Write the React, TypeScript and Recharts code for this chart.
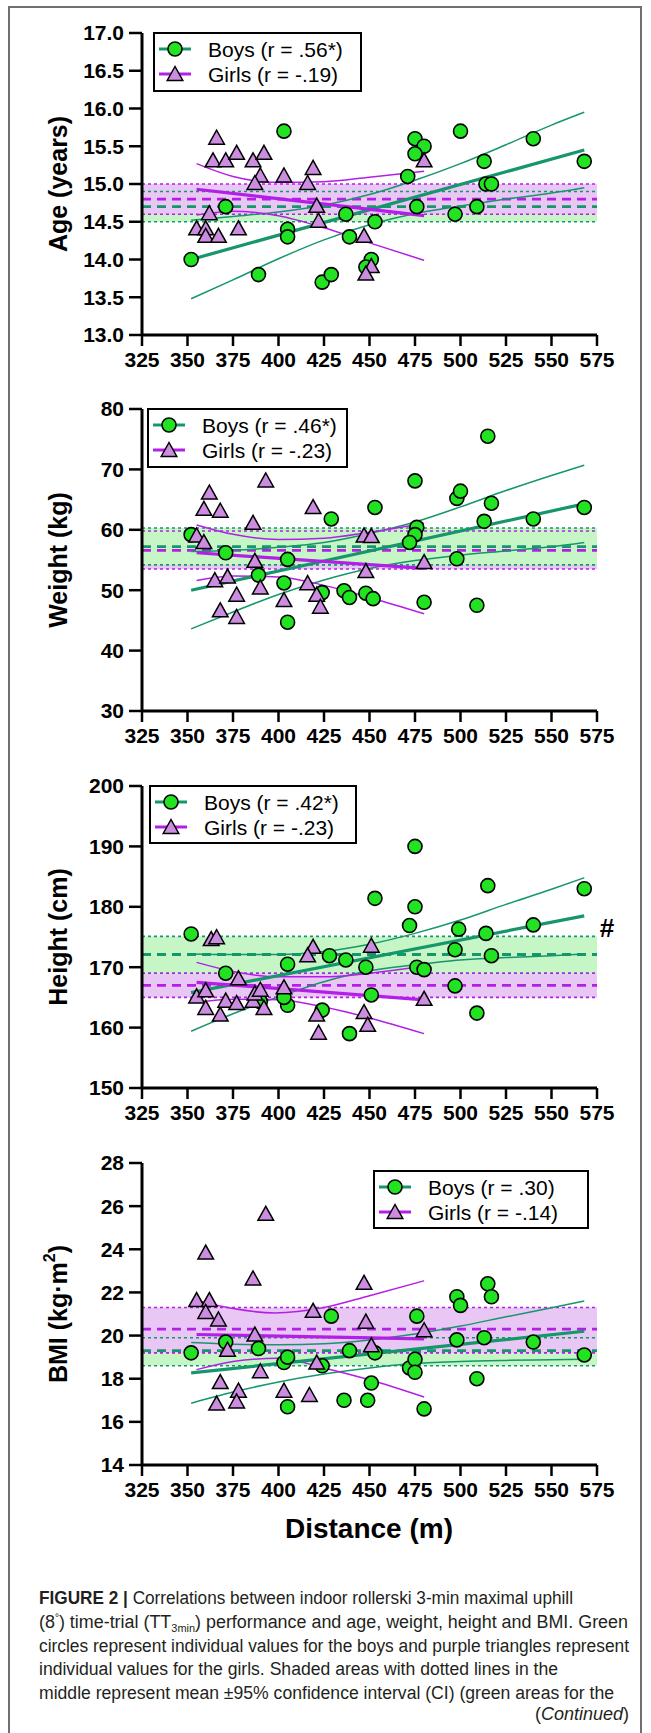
import React from 'react';
import { ScatterChart, Scatter, XAxis, YAxis, ReferenceArea, ReferenceLine } from 'recharts';

type Pt = { x: number; y: number };

const GREEN_LINE = '#15966b';
const GREEN_PT = '#22e322';
const GREEN_BAND = '#c6f6c6';
const PURPLE_LINE = '#b41fe8';
const PURPLE_PT = '#cc8de0';
const PURPLE_BAND = '#e9c7f4';
const FONT = "'Liberation Sans', Arial, sans-serif";

const distanceTicks = [325, 350, 375, 400, 425, 450, 475, 500, 525, 550, 575];

// ---------- Age ----------
const ageTicks = [13, 13.5, 14, 14.5, 15, 15.5, 16, 16.5, 17];
const boysAge: Pt[] = [
  { x: 403, y: 15.7 }, { x: 475, y: 15.6 }, { x: 480, y: 15.5 }, { x: 475, y: 15.4 }, { x: 500, y: 15.7 },
  { x: 540, y: 15.6 }, { x: 513, y: 15.3 }, { x: 568, y: 15.3 }, { x: 471, y: 15.1 }, { x: 514, y: 15.0 },
  { x: 517, y: 15.0 }, { x: 371, y: 14.7 }, { x: 352, y: 14.0 }, { x: 389, y: 13.8 }, { x: 405, y: 14.4 },
  { x: 405, y: 14.3 }, { x: 424, y: 13.7 }, { x: 429, y: 13.8 }, { x: 437, y: 14.6 }, { x: 439, y: 14.3 },
  { x: 451, y: 14.0 }, { x: 448, y: 13.9 }, { x: 453, y: 14.5 }, { x: 476, y: 14.7 }, { x: 497, y: 14.6 },
  { x: 509, y: 14.7 },
];
const girlsAge: Pt[] = [
  { x: 366, y: 15.6 }, { x: 364, y: 15.3 }, { x: 371, y: 15.3 }, { x: 377, y: 15.4 }, { x: 386, y: 15.3 },
  { x: 392, y: 15.4 }, { x: 390, y: 15.1 }, { x: 387, y: 15.0 }, { x: 403, y: 15.1 }, { x: 416, y: 15.0 },
  { x: 419, y: 15.2 }, { x: 480, y: 15.3 }, { x: 362, y: 14.6 }, { x: 355, y: 14.4 }, { x: 360, y: 14.4 },
  { x: 360, y: 14.3 }, { x: 367, y: 14.3 }, { x: 378, y: 14.4 }, { x: 421, y: 14.7 }, { x: 422, y: 14.5 },
  { x: 447, y: 14.3 }, { x: 451, y: 13.9 }, { x: 448, y: 13.8 },
];
const boysAgeFit: Pt[] = [{ x: 352, y: 14.0 }, { x: 568, y: 15.45 }];
const boysAgeUpper: Pt[] = [
  { x: 352, y: 14.52 }, { x: 375, y: 14.57 }, { x: 400, y: 14.63 }, { x: 425, y: 14.72 }, { x: 450, y: 14.86 },
  { x: 475, y: 15.05 }, { x: 500, y: 15.27 }, { x: 525, y: 15.52 }, { x: 550, y: 15.78 }, { x: 568, y: 15.95 },
];
const boysAgeLower: Pt[] = [
  { x: 352, y: 13.48 }, { x: 375, y: 13.73 }, { x: 400, y: 14.01 }, { x: 425, y: 14.26 }, { x: 450, y: 14.46 },
  { x: 475, y: 14.61 }, { x: 500, y: 14.71 }, { x: 525, y: 14.8 }, { x: 550, y: 14.88 }, { x: 568, y: 14.95 },
];
const girlsAgeFit: Pt[] = [{ x: 355, y: 14.93 }, { x: 480, y: 14.58 }];
const girlsAgeUpper: Pt[] = [
  { x: 355, y: 15.27 }, { x: 375, y: 15.1 }, { x: 400, y: 15.02 }, { x: 425, y: 15.03 }, { x: 450, y: 15.09 }, { x: 480, y: 15.17 },
];
const girlsAgeLower: Pt[] = [
  { x: 355, y: 14.59 }, { x: 375, y: 14.64 }, { x: 400, y: 14.58 }, { x: 425, y: 14.42 }, { x: 450, y: 14.22 }, { x: 480, y: 13.99 },
];
const boysAgeBand = { lo: 14.5, mean: 14.7, hi: 14.9 };
const girlsAgeBand = { lo: 14.6, mean: 14.8, hi: 15.0 };

// ---------- Weight ----------
const weightTicks = [30, 40, 50, 60, 70, 80];
const boysWeight: Pt[] = [
  { x: 515, y: 75.5 }, { x: 475, y: 68.1 }, { x: 498, y: 65.2 }, { x: 500, y: 66.4 }, { x: 517, y: 64.4 },
  { x: 568, y: 63.7 }, { x: 540, y: 61.8 }, { x: 513, y: 61.4 }, { x: 453, y: 63.7 }, { x: 429, y: 61.8 },
  { x: 476, y: 60.4 }, { x: 475, y: 59.2 }, { x: 472, y: 57.9 }, { x: 498, y: 55.2 }, { x: 352, y: 59.2 },
  { x: 371, y: 56.2 }, { x: 405, y: 55.1 }, { x: 389, y: 52.5 }, { x: 403, y: 51.2 }, { x: 424, y: 49.6 },
  { x: 436, y: 49.9 }, { x: 439, y: 48.8 }, { x: 448, y: 49.5 }, { x: 452, y: 48.6 }, { x: 480, y: 48.0 },
  { x: 509, y: 47.5 }, { x: 405, y: 44.7 },
];
const girlsWeight: Pt[] = [
  { x: 362, y: 66.0 }, { x: 359, y: 63.3 }, { x: 368, y: 63.0 }, { x: 393, y: 68.0 }, { x: 386, y: 61.0 },
  { x: 419, y: 63.6 }, { x: 355, y: 58.9 }, { x: 359, y: 57.8 }, { x: 387, y: 54.7 }, { x: 447, y: 58.9 },
  { x: 451, y: 58.8 }, { x: 365, y: 51.5 }, { x: 372, y: 52.1 }, { x: 377, y: 49.1 }, { x: 390, y: 50.3 },
  { x: 403, y: 48.2 }, { x: 416, y: 51.0 }, { x: 421, y: 49.1 }, { x: 448, y: 53.0 }, { x: 480, y: 54.5 },
  { x: 368, y: 46.5 }, { x: 377, y: 45.4 }, { x: 423, y: 47.1 },
];
const boysWeightFit: Pt[] = [{ x: 352, y: 50.0 }, { x: 568, y: 64.3 }];
const boysWeightUpper: Pt[] = [
  { x: 352, y: 56.4 }, { x: 375, y: 56.6 }, { x: 400, y: 57.1 }, { x: 425, y: 57.9 }, { x: 450, y: 59.4 },
  { x: 475, y: 61.3 }, { x: 500, y: 63.8 }, { x: 525, y: 66.5 }, { x: 550, y: 69.0 }, { x: 568, y: 70.7 },
];
const boysWeightLower: Pt[] = [
  { x: 352, y: 43.6 }, { x: 375, y: 46.4 }, { x: 400, y: 49.3 }, { x: 425, y: 51.7 }, { x: 450, y: 53.6 },
  { x: 475, y: 54.9 }, { x: 500, y: 55.8 }, { x: 525, y: 56.5 }, { x: 550, y: 57.2 }, { x: 568, y: 57.9 },
];
const girlsWeightFit: Pt[] = [{ x: 355, y: 56.2 }, { x: 480, y: 53.6 }];
const girlsWeightUpper: Pt[] = [
  { x: 355, y: 60.8 }, { x: 375, y: 59.25 }, { x: 400, y: 58.4 }, { x: 425, y: 58.6 }, { x: 450, y: 59.6 }, { x: 480, y: 61.1 },
];
const girlsWeightLower: Pt[] = [
  { x: 355, y: 51.6 }, { x: 375, y: 52.35 }, { x: 400, y: 52.2 }, { x: 425, y: 50.8 }, { x: 450, y: 48.8 }, { x: 480, y: 46.1 },
];
const boysWeightBand = { lo: 54.2, mean: 57.2, hi: 60.3 };
const girlsWeightBand = { lo: 53.5, mean: 56.6, hi: 59.8 };

// ---------- Height ----------
const heightTicks = [150, 160, 170, 180, 190, 200];
const boysHeight: Pt[] = [
  { x: 475, y: 190 }, { x: 453, y: 181.4 }, { x: 475, y: 180 }, { x: 472, y: 176.9 }, { x: 515, y: 183.5 },
  { x: 568, y: 183 }, { x: 540, y: 177 }, { x: 499, y: 176.3 }, { x: 514, y: 175.6 }, { x: 497, y: 172.9 },
  { x: 517, y: 171.9 }, { x: 352, y: 175.5 }, { x: 428, y: 171.9 }, { x: 437, y: 171.2 }, { x: 405, y: 170.5 },
  { x: 448, y: 170 }, { x: 476, y: 170 }, { x: 480, y: 169.6 }, { x: 371, y: 169 }, { x: 497, y: 166.9 },
  { x: 509, y: 162.4 }, { x: 451, y: 165.4 }, { x: 405, y: 163.7 }, { x: 403, y: 165 }, { x: 424, y: 162.9 },
  { x: 439, y: 159 }, { x: 390, y: 164.3 },
];
const girlsHeight: Pt[] = [
  { x: 363, y: 174.5 }, { x: 366, y: 174.8 }, { x: 419, y: 173.2 }, { x: 416, y: 171.8 }, { x: 451, y: 173.4 },
  { x: 378, y: 168 }, { x: 355, y: 165 }, { x: 360, y: 166 }, { x: 360, y: 163.1 }, { x: 368, y: 162 },
  { x: 371, y: 164.3 }, { x: 377, y: 163.9 }, { x: 386, y: 164.3 }, { x: 387, y: 165.5 }, { x: 390, y: 166.1 },
  { x: 392, y: 163.1 }, { x: 403, y: 166.5 }, { x: 421, y: 162 }, { x: 422, y: 159 }, { x: 447, y: 162.4 },
  { x: 449, y: 160.3 }, { x: 480, y: 164.6 },
];
const boysHeightFit: Pt[] = [{ x: 352, y: 165.8 }, { x: 568, y: 178.5 }];
const boysHeightUpper: Pt[] = [
  { x: 352, y: 172.2 }, { x: 375, y: 172.1 }, { x: 400, y: 172.1 }, { x: 425, y: 172.6 }, { x: 450, y: 173.8 },
  { x: 475, y: 175.6 }, { x: 500, y: 177.8 }, { x: 525, y: 180.4 }, { x: 550, y: 182.9 }, { x: 568, y: 184.8 },
];
const boysHeightLower: Pt[] = [
  { x: 352, y: 159.4 }, { x: 375, y: 162.3 }, { x: 400, y: 165.1 }, { x: 425, y: 167.6 }, { x: 450, y: 169.4 },
  { x: 475, y: 170.4 }, { x: 500, y: 171.2 }, { x: 525, y: 171.6 }, { x: 550, y: 171.9 }, { x: 568, y: 172.2 },
];
const girlsHeightFit: Pt[] = [{ x: 355, y: 167.5 }, { x: 480, y: 164.6 }];
const girlsHeightUpper: Pt[] = [
  { x: 355, y: 170.8 }, { x: 375, y: 169.3 }, { x: 400, y: 168.4 }, { x: 425, y: 168.4 }, { x: 450, y: 169.0 }, { x: 480, y: 170.2 },
];
const girlsHeightLower: Pt[] = [
  { x: 355, y: 164.2 }, { x: 375, y: 164.7 }, { x: 400, y: 164.6 }, { x: 425, y: 163.4 }, { x: 450, y: 161.6 }, { x: 480, y: 159.0 },
];
const boysHeightBand = { lo: 169.0, mean: 172.1, hi: 175.1 };
const girlsHeightBand = { lo: 165.0, mean: 167.0, hi: 169.0 };

// ---------- BMI ----------
const bmiTicks = [14, 16, 18, 20, 22, 24, 26, 28];
const boysBmi: Pt[] = [
  { x: 429, y: 20.9 }, { x: 476, y: 20.9 }, { x: 498, y: 21.8 }, { x: 500, y: 21.4 }, { x: 515, y: 22.4 },
  { x: 517, y: 21.8 }, { x: 352, y: 19.2 }, { x: 371, y: 19.7 }, { x: 389, y: 19.4 }, { x: 403, y: 18.75 },
  { x: 405, y: 19.0 }, { x: 405, y: 16.7 }, { x: 424, y: 18.6 }, { x: 439, y: 19.3 }, { x: 436, y: 17.0 },
  { x: 449, y: 17.0 }, { x: 451, y: 17.8 }, { x: 453, y: 19.2 }, { x: 472, y: 18.5 }, { x: 475, y: 18.9 },
  { x: 475, y: 18.3 }, { x: 480, y: 16.6 }, { x: 498, y: 19.8 }, { x: 513, y: 19.9 }, { x: 509, y: 18.0 },
  { x: 540, y: 19.7 }, { x: 568, y: 19.1 },
];
const girlsBmi: Pt[] = [
  { x: 393, y: 25.6 }, { x: 360, y: 23.8 }, { x: 386, y: 22.6 }, { x: 447, y: 22.4 }, { x: 355, y: 21.6 },
  { x: 362, y: 21.6 }, { x: 360, y: 21.05 }, { x: 419, y: 21.1 }, { x: 367, y: 20.7 }, { x: 448, y: 20.6 },
  { x: 387, y: 20.0 }, { x: 480, y: 20.2 }, { x: 372, y: 19.3 }, { x: 451, y: 19.5 }, { x: 368, y: 17.8 },
  { x: 378, y: 17.4 }, { x: 377, y: 16.9 }, { x: 366, y: 16.8 }, { x: 390, y: 18.3 }, { x: 403, y: 17.4 },
  { x: 417, y: 17.2 }, { x: 421, y: 18.7 },
];
const boysBmiFit: Pt[] = [{ x: 352, y: 18.27 }, { x: 568, y: 20.2 }];
const boysBmiUpper: Pt[] = [
  { x: 352, y: 19.68 }, { x: 375, y: 19.6 }, { x: 400, y: 19.57 }, { x: 425, y: 19.62 }, { x: 450, y: 19.8 },
  { x: 475, y: 20.07 }, { x: 500, y: 20.44 }, { x: 525, y: 20.87 }, { x: 550, y: 21.29 }, { x: 568, y: 21.6 },
];
const boysBmiLower: Pt[] = [
  { x: 352, y: 16.86 }, { x: 375, y: 17.38 }, { x: 400, y: 17.85 }, { x: 425, y: 18.22 }, { x: 450, y: 18.5 },
  { x: 475, y: 18.7 }, { x: 500, y: 18.8 }, { x: 525, y: 18.85 }, { x: 550, y: 18.88 }, { x: 568, y: 18.9 },
];
const girlsBmiFit: Pt[] = [{ x: 355, y: 20.05 }, { x: 480, y: 19.85 }];
const girlsBmiUpper: Pt[] = [
  { x: 355, y: 21.64 }, { x: 375, y: 21.25 }, { x: 398, y: 21.05 }, { x: 425, y: 21.3 }, { x: 450, y: 21.85 }, { x: 480, y: 22.54 },
];
const girlsBmiLower: Pt[] = [
  { x: 355, y: 18.42 }, { x: 375, y: 18.8 }, { x: 400, y: 18.95 }, { x: 425, y: 18.5 }, { x: 450, y: 17.95 }, { x: 480, y: 17.15 },
];
const boysBmiBand = { lo: 18.6, mean: 19.3, hi: 19.9 };
const girlsBmiBand = { lo: 19.2, mean: 20.3, hi: 21.3 };

// ---------- caption ----------
const captionLines = [
  'Correlations between indoor rollerski 3-min maximal uphill',
  'time-trial (TT',
  'circles represent individual values for the boys and purple triangles represent',
  'individual values for the girls. Shaded areas with dotted lines in the',
  'middle represent mean ±95% confidence interval (CI) (green areas for the',
];

type Band = { lo: number; mean: number; hi: number };

const Empty = () => <g />;
const CircleDot = (p: any) => (
  <circle cx={p.cx} cy={p.cy} r={7} fill={GREEN_PT} stroke="#000" strokeWidth={1.6} />
);
const TriDot = (p: any) => (
  <polygon
    points={`${p.cx},${p.cy - 8.5} ${p.cx - 7.8},${p.cy + 5.5} ${p.cx + 7.8},${p.cy + 5.5}`}
    fill={PURPLE_PT}
    stroke="#000"
    strokeWidth={1.5}
    strokeLinejoin="miter"
  />
);

const PLOT_H = 302;
const TOP_PAD = 20;
const XAX_H = 70;
const PLOT_LEFT = 142;
const PLOT_RIGHT = 597;

function YTitle({ children }: { children: React.ReactNode }) {
  const cx = 58;
  const cy = TOP_PAD + PLOT_H / 2;
  return (
    <text
      x={cx}
      y={cy}
      transform={`rotate(-90, ${cx}, ${cy})`}
      textAnchor="middle"
      dominantBaseline="central"
      fontFamily={FONT}
      fontWeight="bold"
      fontSize={25}
      fill="#000"
    >
      {children}
    </text>
  );
}

function LegendBox(props: { left: number; top: number; width: number; height: number; boys: string; girls: string }) {
  const { left, top, width, height, boys, girls } = props;
  const r1 = 17;
  const r2 = 42;
  return (
    <svg style={{ position: 'absolute', left, top }} width={width} height={height}>
      <rect x={1} y={1} width={width - 2} height={height - 2} fill="#fff" stroke="#000" strokeWidth={2} />
      <line x1={6} x2={38} y1={r1} y2={r1} stroke={GREEN_LINE} strokeWidth={3} />
      <CircleDot cx={22} cy={r1} />
      <text x={55} y={r1} dominantBaseline="central" fontFamily={FONT} fontSize={21} fill="#000">{boys}</text>
      <line x1={6} x2={38} y1={r2} y2={r2} stroke={PURPLE_LINE} strokeWidth={3} />
      <TriDot cx={22} cy={r2 + 1} />
      <text x={55} y={r2} dominantBaseline="central" fontFamily={FONT} fontSize={21} fill="#000">{girls}</text>
    </svg>
  );
}

function Panel(props: {
  plotTop: number;
  domain: [number, number];
  ticks: number[];
  decimals: number;
  title: React.ReactNode;
  boys: Pt[];
  girls: Pt[];
  bFit: Pt[];
  bUp: Pt[];
  bLo: Pt[];
  gFit: Pt[];
  gUp: Pt[];
  gLo: Pt[];
  bBand: Band;
  gBand: Band;
  purpleOnTop: boolean;
}) {
  const p = props;
  const H = TOP_PAD + PLOT_H + XAX_H;
  const bands = p.purpleOnTop
    ? [{ b: p.bBand, c: GREEN_BAND }, { b: p.gBand, c: PURPLE_BAND }]
    : [{ b: p.gBand, c: PURPLE_BAND }, { b: p.bBand, c: GREEN_BAND }];
  const lineSets = [
    { b: p.bBand, c: GREEN_LINE },
    { b: p.gBand, c: PURPLE_LINE },
  ];
  return (
    <div style={{ position: 'absolute', left: 0, top: p.plotTop - TOP_PAD, width: 651, height: H }}>
      <ScatterChart width={651} height={H} margin={{ top: TOP_PAD, right: 651 - PLOT_RIGHT, bottom: 0, left: 0 }}>
        <XAxis
          type="number"
          dataKey="x"
          domain={[325, 575]}
          ticks={distanceTicks}
          allowDataOverflow
          height={XAX_H}
          axisLine={{ stroke: '#000', strokeWidth: 3 }}
          tickLine={{ stroke: '#000', strokeWidth: 2.5 }}
          tickSize={11}
          tickMargin={6}
          tick={{ fill: '#000', fontSize: 21, fontWeight: 'bold', fontFamily: FONT }}
          interval={0}
        />
        <YAxis
          type="number"
          dataKey="y"
          domain={p.domain}
          ticks={p.ticks}
          allowDataOverflow
          width={PLOT_LEFT}
          axisLine={{ stroke: '#000', strokeWidth: 3 }}
          tickLine={{ stroke: '#000', strokeWidth: 2.5 }}
          tickSize={13}
          tickMargin={5}
          tick={{ fill: '#000', fontSize: 21, fontWeight: 'bold', fontFamily: FONT }}
          tickFormatter={(v: number) => v.toFixed(p.decimals)}
          interval={0}
          label={<YTitle>{p.title}</YTitle>}
        />
        {bands.map((d, i) => (
          <ReferenceArea key={'a' + i} y1={d.b.lo} y2={d.b.hi} fill={d.c} fillOpacity={1} stroke="none" ifOverflow="hidden" />
        ))}
        {lineSets.map((d, i) => (
          <ReferenceLine key={'lo' + i} y={d.b.lo} stroke={d.c} strokeWidth={1.6} strokeDasharray="3 3" />
        ))}
        {lineSets.map((d, i) => (
          <ReferenceLine key={'hi' + i} y={d.b.hi} stroke={d.c} strokeWidth={1.6} strokeDasharray="3 3" />
        ))}
        {lineSets.map((d, i) => (
          <ReferenceLine key={'m' + i} y={d.b.mean} stroke={d.c} strokeWidth={2.8} strokeDasharray="9 6" />
        ))}
        <Scatter data={p.bUp} shape={Empty} line={{ stroke: GREEN_LINE, strokeWidth: 1.5 }} lineType="joint" lineJointType="monotoneX" isAnimationActive={false} />
        <Scatter data={p.bLo} shape={Empty} line={{ stroke: GREEN_LINE, strokeWidth: 1.5 }} lineType="joint" lineJointType="monotoneX" isAnimationActive={false} />
        <Scatter data={p.gUp} shape={Empty} line={{ stroke: PURPLE_LINE, strokeWidth: 1.5 }} lineType="joint" lineJointType="monotoneX" isAnimationActive={false} />
        <Scatter data={p.gLo} shape={Empty} line={{ stroke: PURPLE_LINE, strokeWidth: 1.5 }} lineType="joint" lineJointType="monotoneX" isAnimationActive={false} />
        <Scatter data={p.bFit} shape={Empty} line={{ stroke: GREEN_LINE, strokeWidth: 3.2 }} lineType="joint" isAnimationActive={false} />
        <Scatter data={p.gFit} shape={Empty} line={{ stroke: PURPLE_LINE, strokeWidth: 3.2 }} lineType="joint" isAnimationActive={false} />
        <Scatter data={p.boys} shape={CircleDot} isAnimationActive={false} />
        <Scatter data={p.girls} shape={TriDot} isAnimationActive={false} />
      </ScatterChart>
    </div>
  );
}

const P1 = 33;
const P2 = 409;
const P3 = 786;
const P4 = 1163;

export default function App() {
  return (
    <div
      style={{
        position: 'absolute',
        left: 0,
        top: 0,
        width: 651,
        height: 1733,
        overflow: 'hidden',
        background: '#fff',
        fontFamily: FONT,
      }}
    >
      <div
        style={{
          position: 'absolute',
          left: 8,
          top: 6,
          width: 634,
          height: 1800,
          border: '2px solid #707070',
          boxSizing: 'border-box',
        }}
      />
      <Panel
        plotTop={P1} domain={[13, 17]} ticks={ageTicks} decimals={1} title="Age (years)"
        boys={boysAge} girls={girlsAge} bFit={boysAgeFit} bUp={boysAgeUpper} bLo={boysAgeLower}
        gFit={girlsAgeFit} gUp={girlsAgeUpper} gLo={girlsAgeLower} bBand={boysAgeBand} gBand={girlsAgeBand} purpleOnTop
      />
      <Panel
        plotTop={P2} domain={[30, 80]} ticks={weightTicks} decimals={0} title="Weight (kg)"
        boys={boysWeight} girls={girlsWeight} bFit={boysWeightFit} bUp={boysWeightUpper} bLo={boysWeightLower}
        gFit={girlsWeightFit} gUp={girlsWeightUpper} gLo={girlsWeightLower} bBand={boysWeightBand} gBand={girlsWeightBand} purpleOnTop={false}
      />
      <Panel
        plotTop={P3} domain={[150, 200]} ticks={heightTicks} decimals={0} title="Height (cm)"
        boys={boysHeight} girls={girlsHeight} bFit={boysHeightFit} bUp={boysHeightUpper} bLo={boysHeightLower}
        gFit={girlsHeightFit} gUp={girlsHeightUpper} gLo={girlsHeightLower} bBand={boysHeightBand} gBand={girlsHeightBand} purpleOnTop={false}
      />
      <Panel
        plotTop={P4} domain={[14, 28]} ticks={bmiTicks} decimals={0}
        title={<>BMI (kg·m<tspan dy={-9} fontSize={16}>2</tspan><tspan dy={9}>)</tspan></>}
        boys={boysBmi} girls={girlsBmi} bFit={boysBmiFit} bUp={boysBmiUpper} bLo={boysBmiLower}
        gFit={girlsBmiFit} gUp={girlsBmiUpper} gLo={girlsBmiLower} bBand={boysBmiBand} gBand={girlsBmiBand} purpleOnTop
      />
      <LegendBox left={153} top={32} width={209} height={60} boys="Boys (r = .56*)" girls="Girls (r = -.19)" />
      <LegendBox left={147} top={408} width={201} height={60} boys="Boys (r = .46*)" girls="Girls (r = -.23)" />
      <LegendBox left={149} top={785} width={208} height={59} boys="Boys (r = .42*)" girls="Girls (r = -.23)" />
      <LegendBox left={373} top={1170} width={216} height={59} boys="Boys (r = .30)" girls="Girls (r = -.14)" />
      <svg style={{ position: 'absolute', left: 590, top: 905 }} width={40} height={46}>
        <text x={17} y={23} textAnchor="middle" dominantBaseline="central" fontFamily={FONT} fontWeight="bold" fontSize={26} fill="#000">
          #
        </text>
      </svg>
      <svg style={{ position: 'absolute', left: 0, top: 1500 }} width={651} height={233}>
        <text x={369} y={28} textAnchor="middle" dominantBaseline="central" fontFamily={FONT} fontWeight="bold" fontSize={28} fill="#000">
          Distance (m)
        </text>
        <g fontFamily="'Liberation Sans Narrow', 'Liberation Sans', Arial, sans-serif" fontSize={18} fill="#231f20">
          <text x={39} y={104} textLength={534} lengthAdjust="spacingAndGlyphs">
            <tspan fontWeight="bold">FIGURE 2 | </tspan>
            {captionLines[0]}
          </text>
          <text x={39} y={128} textLength={589} lengthAdjust="spacingAndGlyphs">
            (8<tspan fontSize={10} dy={-7}>°</tspan>
            <tspan dy={7}>) {captionLines[1]}</tspan>
            <tspan fontSize={11} dy={4}>3min</tspan>
            <tspan dy={-4}>) performance and age, weight, height and BMI. Green</tspan>
          </text>
          <text x={39} y={152} textLength={590} lengthAdjust="spacingAndGlyphs">{captionLines[2]}</text>
          <text x={39} y={175} textLength={519} lengthAdjust="spacingAndGlyphs">{captionLines[3]}</text>
          <text x={39} y={199} textLength={575} lengthAdjust="spacingAndGlyphs">{captionLines[4]}</text>
          <text x={629} y={220} textAnchor="end">
            (<tspan fontStyle="italic">Continued</tspan>)
          </text>
        </g>
      </svg>
    </div>
  );
}
